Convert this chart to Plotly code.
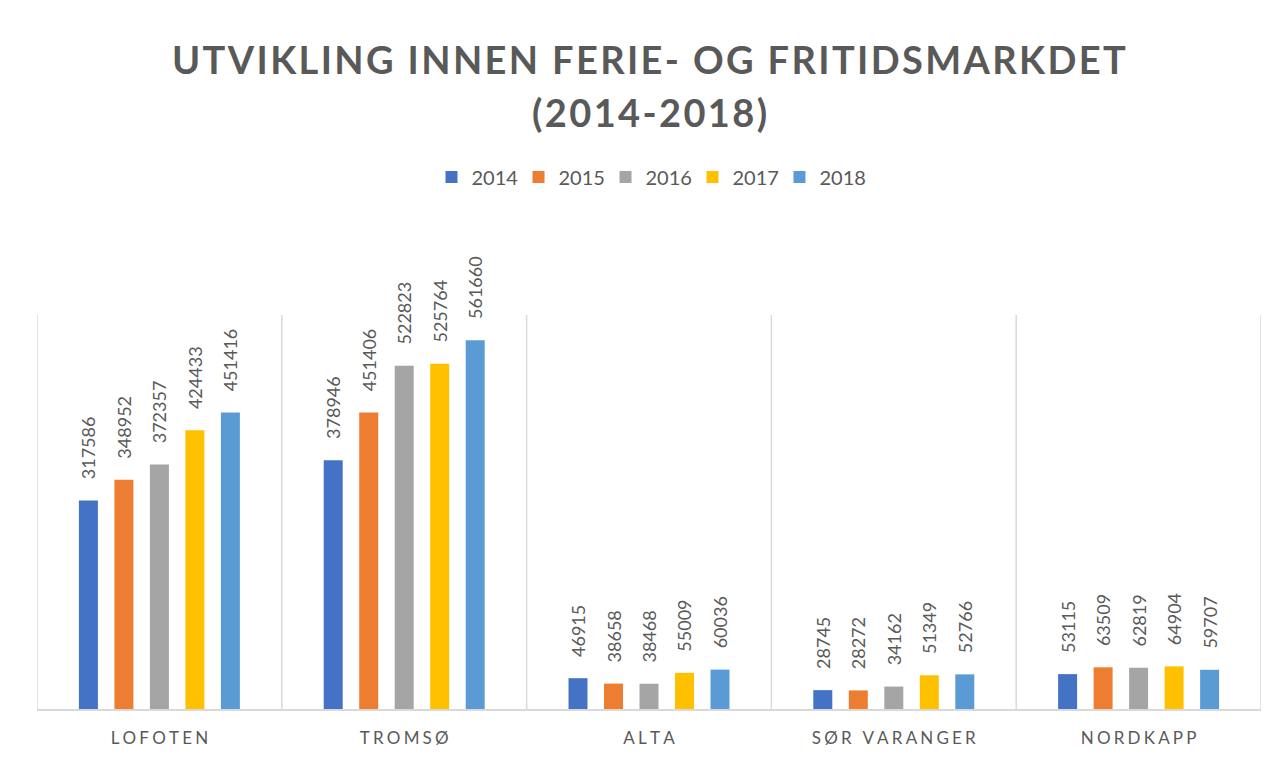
import plotly.graph_objects as go

categories = ["LOFOTEN", "TROMSØ", "ALTA", "SØR VARANGER", "NORDKAPP"]
years = ["2014", "2015", "2016", "2017", "2018"]
values_2014 = [317586, 378946, 46915, 28745, 53115]
values_2015 = [348952, 451406, 38658, 28272, 63509]
values_2016 = [372357, 522823, 38468, 34162, 62819]
values_2017 = [424433, 525764, 55009, 51349, 64904]
values_2018 = [451416, 561660, 60036, 52766, 59707]
series = [values_2014, values_2015, values_2016, values_2017, values_2018]
colors = ["#4472C4", "#ED7D31", "#A5A5A5", "#FFC000", "#5B9BD5"]
title_line1 = "UTVIKLING INNEN FERIE- OG FRITIDSMARKDET"
title_line2 = "(2014-2018)"

FONT = "Lato"
GREY = "#595959"

def spaced(s, sep="\u2009"):
    return sep.join(list(s))

tick_labels = [spaced(c, "\u2009\u200a") for c in categories]

fig = go.Figure()
for y, vals, col in zip(years, series, colors):
    fig.add_trace(go.Bar(
        name=y, x=tick_labels, y=vals, marker=dict(color=col, line=dict(width=0)),
        text=["\u2002\u00a0\u00a0" + str(v) for v in vals], textposition="outside", textangle=-90,
        constraintext="none",
        textfont=dict(family=FONT, size=18, color=GREY), cliponaxis=False,
    ))

shapes = []
for i in range(len(categories) + 1):
    shapes.append(dict(type="line", xref="x", yref="y", x0=i - 0.5, x1=i - 0.5,
                       y0=0, y1=600000, line=dict(color="#D9D9D9", width=1.5)))
shapes.append(dict(type="line", xref="paper", yref="paper", x0=-0.0278, x1=-0.0278,
                   y0=-0.2, y1=1.8, line=dict(color="#D9D9D9", width=1)))

annotations = [
    dict(text=spaced(title_line1, "\u200a"), x=0.5, y=1.649, xref="paper", yref="paper",
         xanchor="center", yanchor="middle", showarrow=False,
         font=dict(family=FONT, size=38, color=GREY, weight="bold")),
    dict(text=spaced(title_line2, "\u200a"), x=0.5, y=1.515, xref="paper", yref="paper",
         xanchor="center", yanchor="middle", showarrow=False,
         font=dict(family=FONT, size=38, color=GREY, weight="bold")),
]

fig.update_layout(
    width=1276, height=760,
    paper_bgcolor="white", plot_bgcolor="white",
    margin=dict(l=29, r=23, t=307, b=59, autoexpand=False),
    barmode="group", bargap=0.275, bargroupgap=0.465,
    legend=dict(orientation="h", x=0.5, xanchor="center", y=1.35, yref="paper",
                yanchor="middle", font=dict(family=FONT, size=20, color=GREY),
                itemwidth=30, entrywidth=42, entrywidthmode="pixels",
                traceorder="normal"),
    showlegend=True,
    xaxis=dict(showgrid=False, showline=True, linecolor="#D9D9D9", linewidth=1.5,
               ticks="", tickfont=dict(family=FONT, size=17, color=GREY),
               ticklabelstandoff=13, range=[-0.5, 4.5]),
    yaxis=dict(range=[0, 600000], showgrid=False, showticklabels=False,
               zeroline=False, showline=False),
    shapes=shapes,
    annotations=annotations,
)

fig.write_html("out.html")
